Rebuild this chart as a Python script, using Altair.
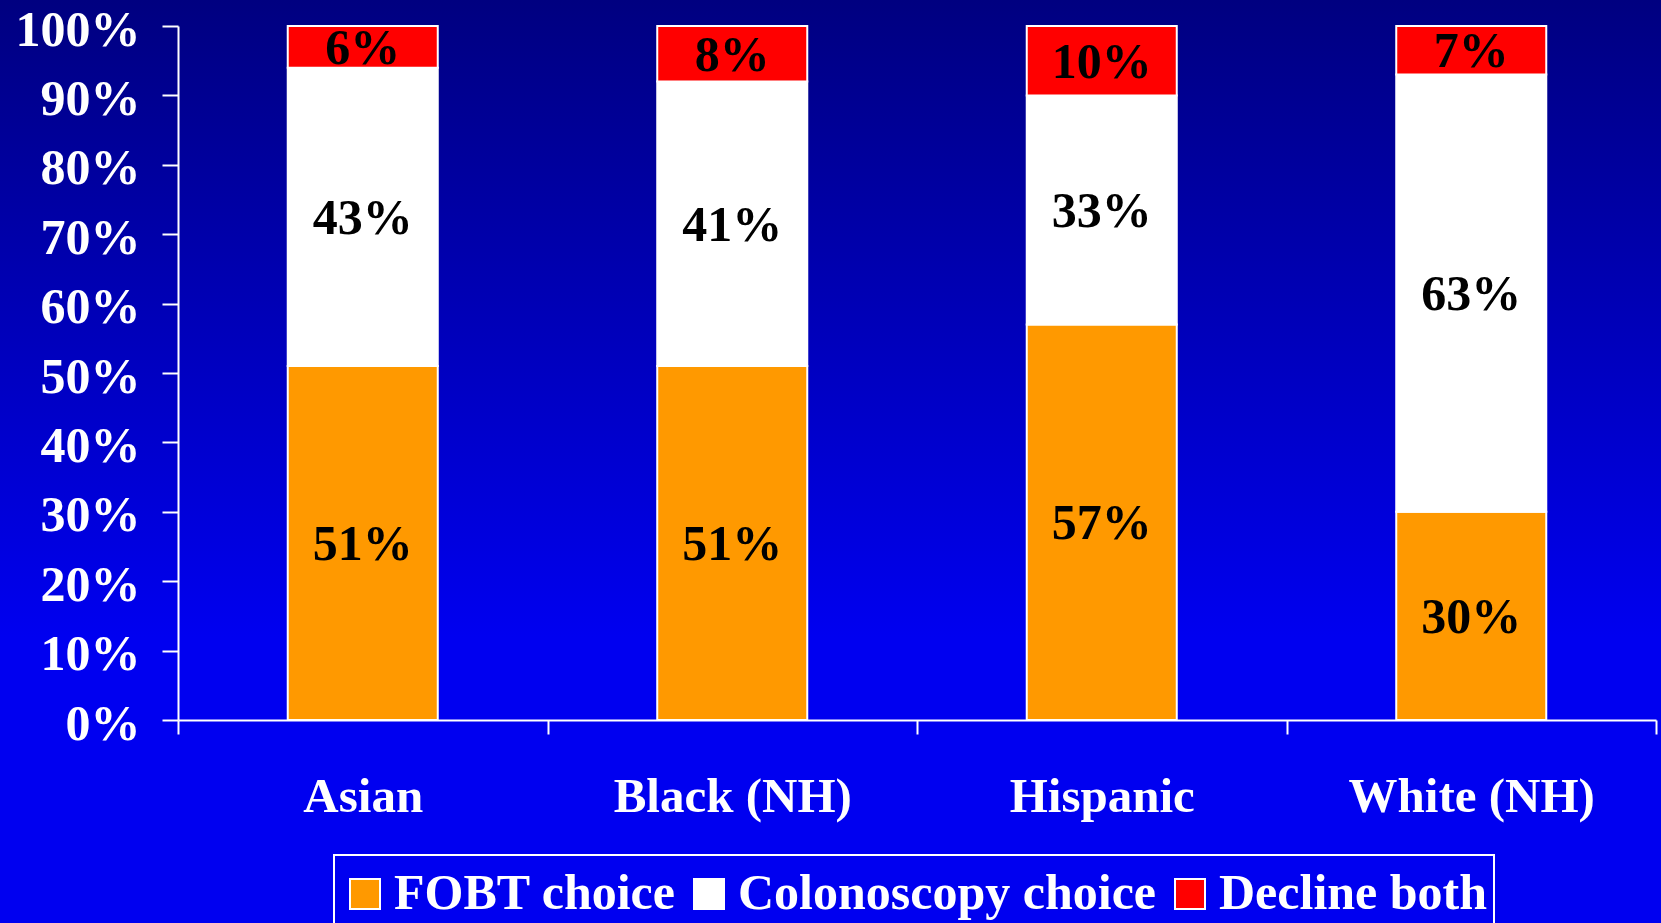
import altair as alt
import pandas as pd

# Screening choice by race/ethnicity (percent of each group)
groups = ["Asian", "Black (NH)", "Hispanic", "White (NH)"]
fobt_choice = [51, 51, 57, 30]
colonoscopy_choice = [43, 41, 33, 63]
decline_both = [6, 8, 10, 7]

choices = ["FOBT choice", "Colonoscopy choice", "Decline both"]
choice_colors = ["#FF9900", "#FFFFFF", "#FF0000"]

rows = []
for i, g in enumerate(groups):
    for rank, (name, series) in enumerate(
        zip(choices, [fobt_choice, colonoscopy_choice, decline_both])
    ):
        rows.append({"group": g, "choice": name, "rank": rank, "value": series[i]})
df = pd.DataFrame(rows)

W, H = 1478, 694
PAD = {"left": 178, "top": 26, "right": 5, "bottom": 203}
SERIF = "Liberation Serif"
FS = 50

# Slide-style backdrop: navy fading to bright blue
backdrop = alt.Chart(pd.DataFrame({"k": [0]})).mark_rect(
    fill=alt.LinearGradient(
        gradient="linear",
        x1=0, y1=0, x2=0, y2=1,
        stops=[
            alt.GradientStop(color="#000080", offset=0),
            alt.GradientStop(color="#0000F0", offset=0.69),
            alt.GradientStop(color="#0000F0", offset=1),
        ],
    )
).encode(
    x=alt.value(-PAD["left"]),
    x2=alt.value(W + PAD["right"]),
    y=alt.value(-PAD["top"]),
    y2=alt.value(H + PAD["bottom"]),
)

base = alt.Chart(df).transform_stack(
    stack="value",
    groupby=["group"],
    as_=["y0", "y1"],
    sort=[alt.SortField("rank", order="ascending")],
).transform_calculate(mid="(datum.y0 + datum.y1) / 2")

x_enc = alt.X(
    "group:N",
    sort=groups,
    scale=alt.Scale(paddingInner=0, paddingOuter=0),
    axis=alt.Axis(
        title=None,
        zindex=2,
        labelAngle=0,
        labelLimit=500,
        tickBand="extent",
        tickSize=14,
        labelPadding=77,
        labelBaseline="alphabetic",
        labelFontSize=49,
    ),
)

bars = base.mark_bar(
    width=alt.RelativeBandSize(0.406), stroke="white", strokeWidth=2
).encode(
    x=x_enc,
    y=alt.Y(
        "y0:Q",
        scale=alt.Scale(domain=[0, 100], nice=False),
        axis=alt.Axis(
            title=None,
            zindex=2,
            values=list(range(0, 101, 10)),
            labelExpr="datum.value + '%'",
            tickSize=16,
            labelPadding=22,
            labelOffset=4,
            labelFontSize=FS,
            grid=False,
        ),
    ),
    y2="y1:Q",
    color=alt.Color(
        "choice:N",
        scale=alt.Scale(domain=choices, range=choice_colors),
        legend=alt.Legend(
            title=" ",
            titleFontSize=2,
            titlePadding=6,
            orient="none",
            direction="horizontal",
            legendX=156,
            legendY=829,
        ),
    ),
)

labels = base.mark_text(
    font=SERIF, fontSize=FS, fontWeight="bold", color="black",
    baseline="middle", dy=2,
).encode(
    x=alt.X("group:N", sort=groups),
    y=alt.Y("mid:Q"),
    text=alt.Text("label:N"),
).transform_calculate(label="datum.value + '%'")

chart = (
    alt.layer(backdrop, bars, labels)
    .properties(
        width=W,
        height=H,
        padding=PAD,
        autosize=alt.AutoSizeParams(type="none"),
        background="#0000F0",
    )
    .configure_view(stroke=None)
    .configure_axis(
        domainColor="white",
        domainWidth=2,
        tickColor="white",
        tickWidth=2,
        labelColor="white",
        labelFont=SERIF,
        labelFontWeight="bold",
    )
    .configure_legend(
        strokeColor="white",
        strokeWidth=2,
        padding=6,
        labelFont=SERIF,
        labelFontSize=FS,
        labelFontWeight="bold",
        labelColor="white",
        labelLimit=600,
        labelOffset=4,
        columnPadding=8,
        symbolType="square",
        symbolSize=900,
        symbolStrokeColor="white",
        symbolStrokeWidth=2,
        symbolOpacity=1,
    )
)

chart.save("out.html", embed_options={"renderer": "svg", "actions": False})
